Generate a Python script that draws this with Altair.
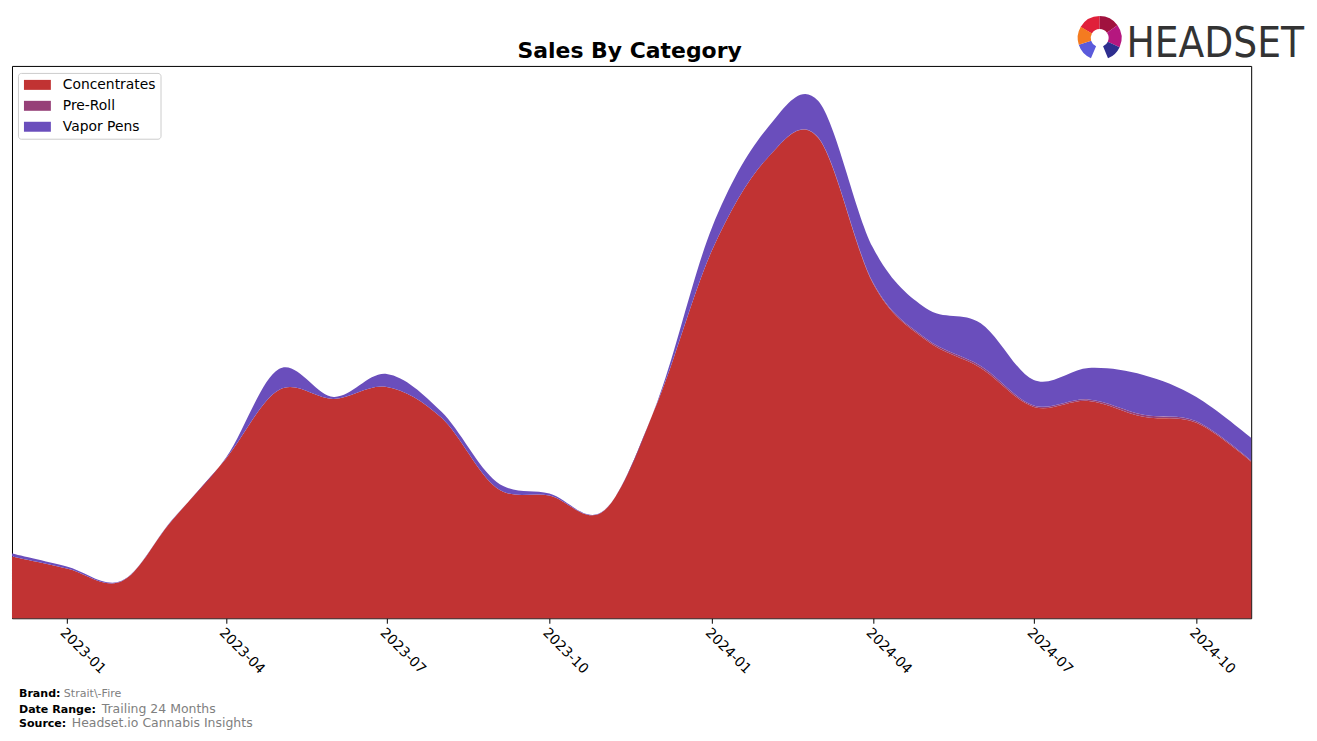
import altair as alt
import pandas as pd

months = ["2022-12-01", "2023-01-01", "2023-02-01", "2023-03-01", "2023-04-01", "2023-05-01",
          "2023-06-01", "2023-07-01", "2023-08-01", "2023-09-01", "2023-10-01", "2023-11-01",
          "2023-12-01", "2024-01-01", "2024-02-01", "2024-03-01", "2024-04-01", "2024-05-01",
          "2024-06-01", "2024-07-01", "2024-08-01", "2024-09-01", "2024-10-01", "2024-11-01"]
categories = ["Concentrates", "Pre-Roll", "Vapor Pens"]
colors = ["#C13333", "#964078", "#6A4EBC"]
concentrates = [62, 50, 37, 97, 160, 229, 220, 232, 201, 131, 123, 108,
                216, 369, 461, 482, 336, 279, 251, 212, 218, 202, 196, 157]
pre_roll = [0, 0, 0, 0, 0, 0, 0, 0, 0, 0, 0, 0,
            0, 0, 0, 0.5, 1, 1.5, 2, 1.5, 1.5, 2, 1.5, 1]
vapor_pens = [3, 2, 0.5, 0.5, 1, 21, 2, 13, 6, 6, 2, 0.3,
              1, 23, 30, 36.5, 35, 30.5, 43, 25.5, 31.5, 40, 24.5, 23]
tick_dates = ["2023-01-01", "2023-04-01", "2023-07-01", "2023-10-01",
              "2024-01-01", "2024-04-01", "2024-07-01", "2024-10-01"]

rows = []
for series, name, order in [(concentrates, "Concentrates", 0), (pre_roll, "Pre-Roll", 1), (vapor_pens, "Vapor Pens", 2)]:
    for m, v in zip(months, series):
        rows.append({"month": m, "category": name, "sales": v, "ord": order})
df = pd.DataFrame(rows)

W, H = 1243, 554

area = alt.Chart(df).mark_area(interpolate="cardinal", opacity=1).encode(
    x=alt.X("month:T",
            scale=alt.Scale(domain=[months[0], months[-1]], nice=False),
            axis=alt.Axis(values=tick_dates, format="%Y-%m", title=None, grid=False,
                          domain=False, tickColor="black", tickSize=5, tickWidth=1,
                          labelAngle=45, labelAlign="left", labelBaseline="top",
                          labelPadding=2, labelFont="DejaVu Sans", labelFontSize=13.9,
                          labelColor="black", labelOverlap=False)),
    y=alt.Y("sales:Q", stack="zero", scale=alt.Scale(domain=[0, H], nice=False, zero=True), axis=None),
    color=alt.Color("category:N", scale=alt.Scale(domain=categories, range=colors),
                    legend=alt.Legend(title=None, orient="none", legendX=6, legendY=7,
                                      symbolType="M-0.857,-0.714H3V0.714H-0.857Z", symbolSize=196,
                                      symbolStrokeWidth=0, labelFont="DejaVu Sans",
                                      labelFontSize=13.9, labelColor="black",
                                      labelOffset=26, rowPadding=7, padding=5,
                                      strokeColor="#cccccc", fillColor="white",
                                      cornerRadius=3)),
    order=alt.Order("ord:Q"),
)

def txt(s, x, y, size, color="black", weight="normal", align="left", font="DejaVu Sans"):
    return alt.Chart(pd.DataFrame({"t": [s]})).mark_text(
        align=align, baseline="alphabetic", fontSize=size, fontWeight=weight,
        color=color, font=font
    ).encode(text="t:N", x=alt.value(x), y=alt.value(y))

title = txt("Sales By Category", W / 2 - 2, -8, 22, weight="bold", align="center")
f1a = txt("Brand:", 7, 633, 11.1, weight="bold")
f1b = txt("Strait\\-Fire", 52, 633, 11.1, color="#808080")
f2a = txt("Date Range:", 7, 649, 11.1, weight="bold")
f2b = txt("Trailing 24 Months", 90, 649, 12.5, color="#808080")
f3a = txt("Source:", 7, 663, 11.1, weight="bold")
f3b = txt("Headset.io Cannabis Insights", 60, 663, 12.5, color="#808080")
logo_text = txt("HEADSET", 1296, -9, 42, color="#333333", align="right",
                font="Liberation Sans Narrow, DejaVu Sans Condensed, sans-serif")

logo_segments = pd.DataFrame({
    "seg": ["a", "b", "c", "d", "e", "f"],
    "t0": [-1.05, 0.0, 0.95, 2.0, 3.55, 4.4],
    "t1": [0.0, 0.95, 2.0, 2.75, 4.4, 5.25],
    "col": ["#E0203A", "#A0123E", "#B5177F", "#2E2E8F", "#5A5ADB", "#F47B20"],
})
logo_icon = alt.Chart(logo_segments).mark_arc(outerRadius=22, innerRadius=9).encode(
    theta=alt.Theta("t0:Q", scale=None),
    theta2="t1:Q",
    color=alt.Color("col:N", scale=None, legend=None),
    x=alt.value(1091), y=alt.value(-28),
)

chart = alt.layer(area, title, f1a, f1b, f2a, f2b, f3a, f3b, logo_text, logo_icon).resolve_scale(
    color="independent"
).properties(
    width=W, height=H,
    autosize=alt.AutoSizeParams(type="none"),
    padding={"left": 4, "top": 57, "right": 58, "bottom": 114},
).configure(
    background="white",
    view=alt.ViewConfig(stroke="black", strokeWidth=1),
)

chart.save("out.html", embed_options={"renderer": "svg", "actions": False})
